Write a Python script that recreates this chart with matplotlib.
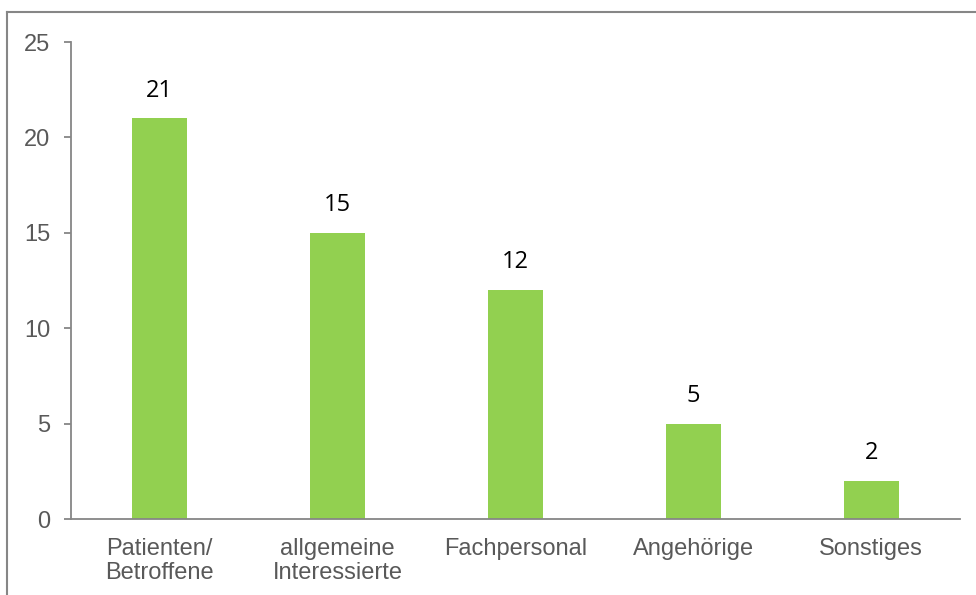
import matplotlib.pyplot as plt
from matplotlib.lines import Line2D

categories = ["Patienten/\nBetroffene", "allgemeine\nInteressierte", "Fachpersonal", "Angehörige", "Sonstiges"]
counts = [21, 15, 12, 5, 2]
yticks = [0, 5, 10, 15, 20, 25]

bar_color = "#92D050"
axis_color = "#868686"
text_color = "#595959"

plt.rcParams["font.family"] = ["Liberation Sans", "DejaVu Sans"]

fig = plt.figure(figsize=(9.76, 5.95), dpi=100)
ax = fig.add_axes([0.0727, 0.1277, 0.9109, 0.8017])

x = range(len(categories))
bars = ax.bar(x, counts, width=0.31, color=bar_color, zorder=2)

for xi, v in zip(x, counts):
    ax.annotate(str(v), (xi, v), xytext=(0, 20), textcoords="offset points",
                ha="center", va="center", fontsize=17, color="black",
                family=["Open Sans", "DejaVu Sans"])

ax.set_xlim(-0.5, len(categories) - 0.5)
ax.set_ylim(0, 25)
ax.set_yticks(yticks)
ax.set_xticks(list(x))
ax.set_xticklabels(categories, linespacing=1.1)

for side in ("top", "right"):
    ax.spines[side].set_visible(False)
for side in ("left", "bottom"):
    ax.spines[side].set_color(axis_color)
    ax.spines[side].set_linewidth(1.3)

ax.tick_params(axis="y", length=5, width=1.3, color=axis_color, pad=10,
               labelsize=17, labelcolor=text_color)
ax.tick_params(axis="x", length=0, pad=14, labelsize=17, labelcolor=text_color)

# outer frame of the chart area
fig.add_artist(Line2D([7 / 976, 1], [1 - 12 / 595, 1 - 12 / 595],
                      transform=fig.transFigure, color=axis_color, lw=1.5))
fig.add_artist(Line2D([7 / 976, 7 / 976], [0, 1 - 12 / 595],
                      transform=fig.transFigure, color=axis_color, lw=1.5))

fig.savefig("out.png", dpi=100)
